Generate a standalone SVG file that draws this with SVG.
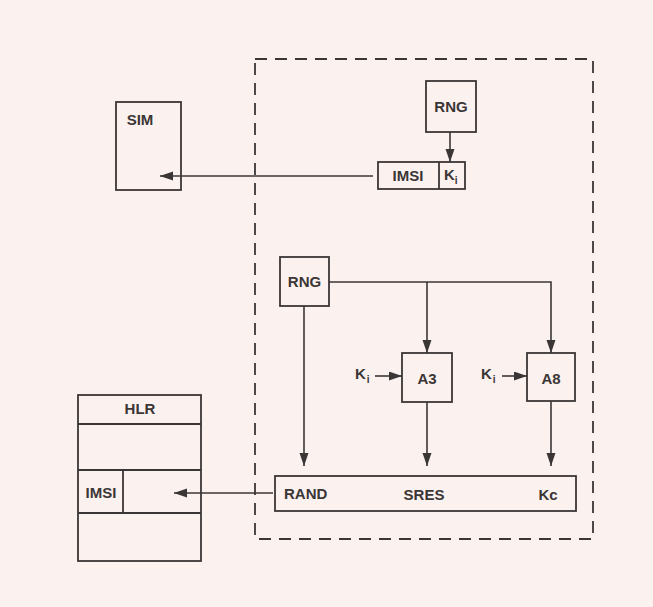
<svg xmlns="http://www.w3.org/2000/svg" width="653" height="607" viewBox="0 0 653 607">
<style>
.bx{fill:none;stroke:#3b3636;stroke-width:1.8}
.ln{fill:none;stroke:#3b3636;stroke-width:1.6}
.t{font-family:"Liberation Sans",Arial,sans-serif;font-weight:bold;font-size:15px;fill:#3b3636}
.m{text-anchor:middle}
.sub{font-size:10px}
</style>
<defs>
<marker id="ah" markerUnits="userSpaceOnUse" markerWidth="14" markerHeight="10" refX="13" refY="4.5" orient="auto">
<path d="M0,0 L13,4.5 L0,9 Z" fill="#3b3636"/>
</marker>
</defs>
<rect width="653" height="607" fill="#fbf1ef"/>
<rect id="boundary" x="255" y="59" width="338" height="480" fill="none" stroke="#3b3636" stroke-width="1.8" stroke-dasharray="12 8"/>
<g id="sim">
<rect class="bx" x="116" y="102" width="65" height="88"/>
<text class="t m" x="140" y="125">SIM</text>
</g>
<g id="rng1">
<rect class="bx" x="426" y="81" width="50" height="51"/>
<text class="t m" x="451" y="112">RNG</text>
</g>
<g id="imsi-ki">
<rect class="bx" x="378" y="162" width="87" height="27"/>
<line class="bx" x1="439" y1="162" x2="439" y2="189"/>
<text class="t m" x="408" y="181">IMSI</text>
<text class="t" x="444" y="180">K<tspan class="sub" dy="4">i</tspan></text>
</g>
<g id="rng2">
<rect class="bx" x="280" y="257" width="49" height="49"/>
<text class="t m" x="304.5" y="287">RNG</text>
</g>
<g id="a3">
<rect class="bx" x="402" y="353" width="50" height="49"/>
<text class="t m" x="427" y="384">A3</text>
</g>
<g id="a8">
<rect class="bx" x="527" y="353" width="48" height="48"/>
<text class="t m" x="551" y="384">A8</text>
</g>
<g id="ki1"><text class="t" x="355" y="379">K<tspan class="sub" dx="1" dy="4">i</tspan></text></g>
<g id="ki2"><text class="t" x="481" y="379">K<tspan class="sub" dx="1" dy="4">i</tspan></text></g>
<g id="triplet">
<rect class="bx" x="275" y="476" width="301" height="35"/>
<text class="t" x="284" y="499">RAND</text>
<text class="t m" x="424" y="500">SRES</text>
<text class="t m" x="548" y="500">Kc</text>
</g>
<g id="hlr">
<rect class="bx" x="78" y="395" width="123" height="166"/>
<line class="bx" x1="78" y1="424" x2="201" y2="424"/>
<line class="bx" x1="78" y1="470" x2="201" y2="470"/>
<line class="bx" x1="78" y1="513" x2="201" y2="513"/>
<line class="bx" x1="123" y1="470" x2="123" y2="513"/>
<text class="t m" x="140" y="414">HLR</text>
<text class="t m" x="101" y="498">IMSI</text>
</g>
<g id="connectors">
<line class="ln" x1="450" y1="132" x2="450" y2="162" marker-end="url(#ah)"/>
<line class="ln" x1="373" y1="176" x2="160" y2="176" marker-end="url(#ah)"/>
<polyline class="ln" points="329,282 551,282 551,353" marker-end="url(#ah)"/>
<line class="ln" x1="427" y1="282" x2="427" y2="353" marker-end="url(#ah)"/>
<line class="ln" x1="375" y1="376" x2="402" y2="376" marker-end="url(#ah)"/>
<line class="ln" x1="502" y1="376" x2="527" y2="376" marker-end="url(#ah)"/>
<line class="ln" x1="304" y1="306" x2="304" y2="466" marker-end="url(#ah)"/>
<line class="ln" x1="427" y1="402" x2="427" y2="466" marker-end="url(#ah)"/>
<line class="ln" x1="551" y1="401" x2="551" y2="466" marker-end="url(#ah)"/>
<line class="ln" x1="273" y1="493" x2="174" y2="493" marker-end="url(#ah)"/>
</g>
</svg>
